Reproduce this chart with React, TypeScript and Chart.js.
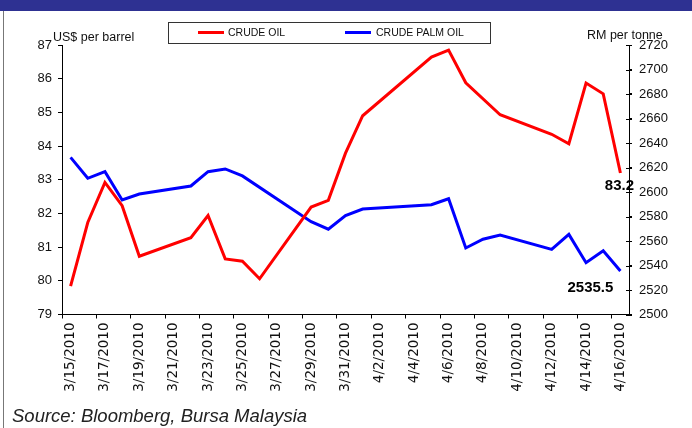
import { useEffect, useRef } from 'react';
import { Chart, registerables } from 'chart.js';

Chart.register(...registerables);

// ---- data ----
const dates = [
  '2010-03-15', '2010-03-16', '2010-03-17', '2010-03-18', '2010-03-19',
  '2010-03-22', '2010-03-23', '2010-03-24', '2010-03-25', '2010-03-26',
  '2010-03-29', '2010-03-30', '2010-03-31', '2010-04-01', '2010-04-05',
  '2010-04-06', '2010-04-07', '2010-04-08', '2010-04-09', '2010-04-12',
  '2010-04-13', '2010-04-14', '2010-04-15', '2010-04-16',
];
const crudeOil: (number | null)[] = [
  79.84, 81.73, 82.92, 82.23, 80.73,
  81.28, 81.94, 80.65, 80.58, 80.06,
  82.19, 82.39, 83.79, 84.9, 86.64,
  86.85, 85.88, null, 84.93, 84.35,
  84.07, 85.87, 85.55, 83.2,
];
const crudePalmOil: (number | null)[] = [
  2628.3, 2611.2, 2616.6, 2593.5, 2598.4,
  2604.9, 2616.6, 2618.8, 2613.1, null,
  2575.8, 2569.6, 2580.7, 2586.1, 2589.6,
  2594.5, 2554.3, 2561.4, 2564.9, 2553.2,
  2565.4, 2542.3, 2552.1, 2535.5,
];
const xTickLabels = [
  '3/15/2010', '3/17/2010', '3/19/2010', '3/21/2010', '3/23/2010', '3/25/2010',
  '3/27/2010', '3/29/2010', '3/31/2010', '4/2/2010', '4/4/2010', '4/6/2010',
  '4/8/2010', '4/10/2010', '4/12/2010', '4/14/2010', '4/16/2010',
];
const seriesNames = ['CRUDE OIL', 'CRUDE PALM OIL'];
const seriesColors = ['#FF0000', '#0000FF'];
const leftAxisTitle = 'US$ per barrel';
const rightAxisTitle = 'RM per tonne';
const endLabels = ['83.2', '2535.5'];
const leftRange = [79, 87, 1];
const rightRange = [2500, 2720, 20];
const sourceText = 'Source: Bloomberg, Bursa Malaysia';

const FONT = "'Liberation Sans', Arial, sans-serif";
const XFONT = "'DejaVu Sans', Verdana, sans-serif";
const DAY = 86400000;
const t0 = Date.parse(dates[0]);
const dayIndex = (d: string) => Math.round((Date.parse(d) - t0) / DAY);

const toPoints = (vals: (number | null)[]) =>
  dates.map((d, i) => ({ x: dayIndex(d), y: vals[i] }));

const extrasPlugin = {
  id: 'extras',
  afterDraw(chart: any) {
    const ctx = chart.ctx;
    const y1 = chart.scales.y1;
    ctx.save();
    // right axis cross tick marks
    ctx.strokeStyle = '#000';
    ctx.lineWidth = 1;
    y1.ticks.forEach((t: any) => {
      const py = Math.round(y1.getPixelForValue(t.value)) + 0.5;
      ctx.beginPath();
      ctx.moveTo(y1.left - 3, py);
      ctx.lineTo(y1.left + 3, py);
      ctx.stroke();
    });
    // end value labels
    ctx.font = `bold 15px ${FONT}`;
    ctx.fillStyle = '#000';
    ctx.textAlign = 'center';
    ctx.textBaseline = 'middle';
    const offs = [[-1, 13], [-30, 17]];
    [0, 1].forEach((di) => {
      const meta = chart.getDatasetMeta(di);
      const pt = meta.data[meta.data.length - 1];
      ctx.fillText(endLabels[di], pt.x + offs[di][0], pt.y + offs[di][1]);
    });
    ctx.restore();
  },
};

export default function App() {
  const ref = useRef<HTMLCanvasElement>(null);

  useEffect(() => {
    const chart = new Chart(ref.current!, {
      type: 'line',
      data: {
        datasets: [
          {
            label: seriesNames[0],
            data: toPoints(crudeOil) as any,
            borderColor: seriesColors[0],
            backgroundColor: seriesColors[0],
            borderWidth: 3,
            pointRadius: 0,
            tension: 0,
            spanGaps: true,
            yAxisID: 'y',
          },
          {
            label: seriesNames[1],
            data: toPoints(crudePalmOil) as any,
            borderColor: seriesColors[1],
            backgroundColor: seriesColors[1],
            borderWidth: 3,
            pointRadius: 0,
            tension: 0,
            spanGaps: true,
            yAxisID: 'y1',
          },
        ],
      },
      options: {
        animation: false,
        responsive: false,
        devicePixelRatio: 1,
        layout: { padding: { top: 45, left: 0, right: 0, bottom: 0 } },
        plugins: { legend: { display: false }, tooltip: { enabled: false } },
        scales: {
          x: {
            type: 'linear',
            position: 'bottom',
            min: -0.5,
            max: 32.5,
            afterBuildTicks: (s: any) => {
              s.ticks = xTickLabels.map((_, k) => ({ value: 2 * k - 0.5 }));
            },
            afterFit: (s: any) => {
              s.height = 113.5;
            },
            ticks: {
              autoSkip: false,
              minRotation: 90,
              maxRotation: 90,
              labelOffset: 8.6,
              padding: 4,
              color: '#111',
              font: { family: XFONT, size: 13.5 },
              callback: (_v: any, i: number) => xTickLabels[i],
            },
            grid: { drawOnChartArea: false, drawTicks: true, tickLength: 4, color: '#000' },
            border: { color: '#000', width: 1 },
          },
          y: {
            type: 'linear',
            position: 'left',
            min: leftRange[0],
            max: leftRange[1],
            afterFit: (s: any) => {
              s.width = 62;
            },
            ticks: {
              stepSize: leftRange[2],
              padding: 6,
              color: '#111',
              font: { family: FONT, size: 13 },
              callback: (v: any) => String(v),
            },
            grid: { drawOnChartArea: false, drawTicks: true, tickLength: 4, color: '#000' },
            border: { color: '#000', width: 1 },
          },
          y1: {
            type: 'linear',
            position: 'right',
            min: rightRange[0],
            max: rightRange[1],
            afterFit: (s: any) => {
              s.width = 63;
            },
            ticks: {
              stepSize: rightRange[2],
              padding: 7,
              color: '#111',
              font: { family: FONT, size: 13 },
              callback: (v: any) => String(v),
            },
            grid: { drawOnChartArea: false, drawTicks: true, tickLength: 3, color: '#000' },
            border: { color: '#000', width: 1 },
          },
        },
      },
      plugins: [extrasPlugin],
    });
    return () => chart.destroy();
  }, []);

  const abs = (s: any) => ({ position: 'absolute', ...s });

  return (
    <div
      style={abs({
        left: 0,
        top: 0,
        width: 692,
        height: 428,
        overflow: 'hidden',
        background: '#fff',
        fontFamily: FONT,
        color: '#111',
      })}
    >
      <canvas ref={ref} width={692} height={428} style={abs({ left: 0, top: 0, display: 'block' })} />
      <div style={abs({ left: 0, top: 0, width: 692, height: 11, background: '#2E3192' })} />
      <div style={abs({ left: 3, top: 11, width: 1, height: 417, background: '#777' })} />
      {/* legend */}
      <div
        style={abs({
          left: 168,
          top: 22,
          width: 323,
          height: 22,
          boxSizing: 'border-box',
          border: '1px solid #333',
          background: '#fff',
        })}
      >
        <div style={abs({ left: 29, top: 8, width: 26, height: 3, background: seriesColors[0] })} />
        <div style={abs({ left: 59, top: 4, fontSize: 10.5, lineHeight: 1, whiteSpace: 'nowrap' })}>
          {seriesNames[0]}
        </div>
        <div style={abs({ left: 176, top: 8, width: 26, height: 3, background: seriesColors[1] })} />
        <div style={abs({ left: 207, top: 4, fontSize: 10.5, lineHeight: 1, whiteSpace: 'nowrap' })}>
          {seriesNames[1]}
        </div>
      </div>
      <div style={abs({ left: 53, top: 31, fontSize: 12.5, lineHeight: 1, whiteSpace: 'nowrap' })}>
        {leftAxisTitle}
      </div>
      <div style={abs({ left: 587, top: 29, fontSize: 12.5, lineHeight: 1, whiteSpace: 'nowrap' })}>
        {rightAxisTitle}
      </div>
      <div
        style={abs({
          left: 12,
          top: 407,
          fontSize: 18.5,
          lineHeight: 1,
          fontStyle: 'italic',
          whiteSpace: 'nowrap',
          color: '#222',
        })}
      >
        {sourceText}
      </div>
    </div>
  );
}
